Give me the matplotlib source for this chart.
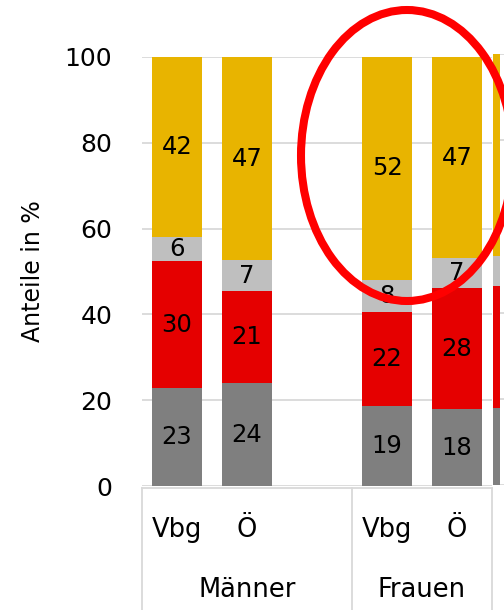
import matplotlib
matplotlib.use("Agg")
import matplotlib.pyplot as plt
from matplotlib.patches import Ellipse
from matplotlib.lines import Line2D
import matplotlib.transforms as mtransforms

plt.rcParams['font.family'] = ['DejaVu Sans']

# ---- data ----
groups = ["Männer", "Frauen"]
group_centers = [1.0, 3.5]
positions = [0, 1, 3, 4]
sub_labels = ["Vbg", "Ö", "Vbg", "Ö"]
seg_dark = [22.8, 24.0, 18.6, 17.9]
seg_red = [29.6, 21.4, 21.9, 28.2]
seg_light = [5.6, 7.2, 7.6, 7.0]
seg_yellow = [42.0, 47.4, 51.9, 46.9]
# partial bar of the neighbouring chart (cut off at the right edge)
next_values = [17.9, 28.2, 7.0, 46.9]

colors = ["#7F7F7F", "#E50000", "#BFBFBF", "#E8B400"]
yticks = [0, 20, 40, 60, 80, 100]

W, H = 504, 610
fig = plt.figure(figsize=(W / 100, H / 100), dpi=100)

def fx(px):
    return px / W

def fy(py):
    return 1 - py / H

ax = fig.add_axes([fx(142), fy(486), fx(492) - fx(142), fy(57) - fy(486)])
ax.set_xlim(-0.5, 4.5)
ax.set_ylim(0, 100)

bw = 50 / 70
series = [seg_dark, seg_red, seg_light, seg_yellow]
bottoms = [0.0] * len(positions)
for vals, col in zip(series, colors):
    ax.bar(positions, vals, bottom=bottoms, width=bw, color=col,
           edgecolor="none", zorder=3)
    for p, v, b in zip(positions, vals, bottoms):
        ax.text(p, b + v / 2, f"{v:.0f}", ha="center", va="center",
                fontsize=17.5, color="black", zorder=4)
    bottoms = [b + v for b, v in zip(bottoms, vals)]

ax.set_yticks(yticks)
ax.set_yticklabels([str(t) for t in yticks], fontsize=18)
ax.tick_params(axis="y", length=0, pad=21.5)
ax.set_xticks([])
ax.grid(axis="y", color="#D9D9D9", linewidth=1.3, zorder=0)
for s in ax.spines.values():
    s.set_visible(False)

# category labels
trans = mtransforms.blended_transform_factory(ax.transData, fig.transFigure)
for p, lab in zip(positions, sub_labels):
    ax.text(p, fy(530), lab, transform=trans, ha="center", va="center",
            fontsize=18.5)
for c, g in zip(group_centers, groups):
    ax.text(c, fy(590), g, transform=trans, ha="center", va="center",
            fontsize=18.5)
for xb in [-0.5, 2.5, 4.5]:
    ax.add_line(Line2D([xb, xb], [fy(488), 0], transform=trans,
                       color="#D9D9D9", linewidth=1.3, clip_on=False))
ax.add_line(Line2D([-0.5, 4.5], [fy(488), fy(488)], transform=trans,
                   color="#D9D9D9", linewidth=1.3, clip_on=False))

fig.text(fx(33), fy(271.5), "Anteile in %", rotation=90, ha="center",
         va="center", fontsize=17)

# neighbouring chart partial bar
ax2 = fig.add_axes([fx(493), fy(485), fx(504) - fx(493), fy(54) - fy(485)])
ax2.set_xlim(0, 11 / 7)
ax2.set_ylim(0, 100)
b = 0.0
for v, col in zip(next_values, colors):
    ax2.bar([0], [v], bottom=[b], width=1, align="edge", color=col,
            edgecolor="none", zorder=3)
    b += v
ax2.set_yticks(yticks)
ax2.grid(axis="y", color="#D9D9D9", linewidth=1.3, zorder=0)
ax2.tick_params(length=0, labelleft=False, labelbottom=False)
ax2.set_xticks([])
for s in ax2.spines.values():
    s.set_visible(False)

# red ellipse annotation
ell = Ellipse((fx(407), fy(155.5)), width=fx(212), height=291 / H,
              transform=fig.transFigure, fill=False, edgecolor="#FF0000",
              linewidth=5.8, zorder=10)
fig.add_artist(ell)

fig.savefig("out.png", dpi=100)
